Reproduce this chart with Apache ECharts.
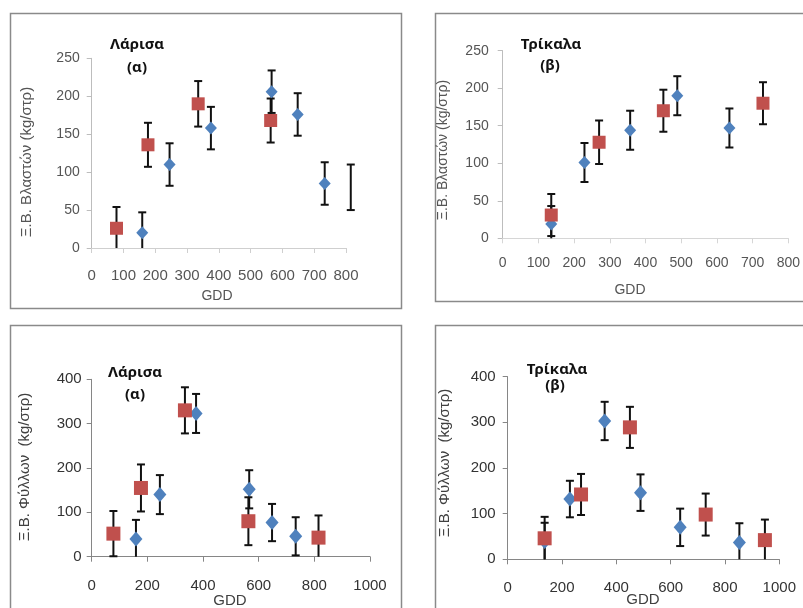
<!DOCTYPE html>
<html>
<head>
<meta charset="utf-8">
<script src="https://cdn.jsdelivr.net/npm/echarts@6/dist/echarts.min.js"></script>
<style>html,body{margin:0;padding:0;background:#fff}#c{width:803px;height:608px}</style>
</head>
<body>
<div id="c"></div>
<script>
// ---- data ----
const larisaRedX  = [78, 177, 335, 563, 815];
const larisaBlueX = [159, 245, 375, 566, 648, 733];
const trikalaBlueX = [136, 229, 357, 489, 635, 853];
const trikalaRedX  = [136, 270, 450, 729, 947];

// (a) shoots, Larisa
const larShootRed = [26, 136, 190, 168, 80];
const larShootRedErr = [28, 29, 30, 29, 30];
const larShootBlue = [20, 110, 158, 206, 176, 85];
const larShootBlueErr = [27, 28, 28, 28, 28, 28];
// (b) shoots, Trikala (visible points only)
const trkShootRed = [31, 128, 170, 180];
const trkShootRedErr = [28, 29, 28, 28];
const trkShootBlue = [19, 101, 144, 190, 147];
const trkShootBlueErr = [24, 26, 26, 26, 26];
// leaves, Larisa
const larLeafRed = [52, 155, 330, 80, 43];
const larLeafRedErr = [51, 53, 52, 54, 50];
const larLeafBlue = [40, 140, 323, 152, 77, 46];
const larLeafBlueErr = [43, 44, 44, 43, 42, 43];
// leaves, Trikala
const trkLeafBlue = [39, 132, 303, 146, 70, 37];
const trkLeafBlueErr = [41, 40, 42, 40, 41, 42];
const trkLeafRed = [46, 142, 289, 98, 42];
const trkLeafRedErr = [47, 45, 45, 46, 45];

const yNameShoot = 'Ξ.Β. Βλαστών (kg/στρ)';
const yNameLeaf = 'Ξ.Β. Φύλλων  (kg/στρ)';
const xName = 'GDD';

const BLUE = '#4F81BD', RED = '#C0504D';

function pts(xs, ys, es) { return ys.map((v, i) => [xs[i], v, es[i]]); }

function errRender(params, api) {
  const x = api.value(0), y = api.value(1), e = api.value(2);
  const lo = Math.max(0, y - e);
  const p1 = api.coord([x, y + e]);
  const p2 = api.coord([x, lo]);
  const hw = 4;
  const st = { stroke: '#111', lineWidth: 2 };
  const ch = [
    { type: 'line', shape: { x1: p1[0], y1: p1[1], x2: p2[0], y2: p2[1] }, style: st },
    { type: 'line', shape: { x1: p1[0] - hw, y1: p1[1], x2: p1[0] + hw, y2: p1[1] }, style: st }
  ];
  if (y - e >= 0) ch.push({ type: 'line', shape: { x1: p2[0] - hw, y1: p2[1], x2: p2[0] + hw, y2: p2[1] }, style: st });
  return { type: 'group', children: ch };
}

const grids = [
  { left: 91.7, top: 58.3, width: 254.3, height: 189.7 },
  { left: 502.7, top: 50.7, width: 289, height: 187.6 },
  { left: 91.7, top: 379.3, width: 278.3, height: 177.4 },
  { left: 507.7, top: 376.7, width: 271.6, height: 182.6 }
];

const plain = v => String(v);

function xAx(g, max, interval, fs, color, lineColor, margin) {
  return { type: 'value', gridIndex: g, min: 0, max: max, interval: interval,
    splitLine: { show: false },
    axisLine: { show: true, onZero: false, lineStyle: { color: lineColor, width: 1 } },
    axisTick: { show: true, length: 5, lineStyle: { color: lineColor } },
    axisLabel: { interval: 0, fontSize: fs, color: color, margin: margin, fontFamily: 'Liberation Sans', formatter: plain } };
}
function yAx(g, max, interval, fs, color, lineColor, margin) {
  return { type: 'value', gridIndex: g, min: 0, max: max, interval: interval,
    splitLine: { show: false },
    axisLine: { show: true, lineStyle: { color: lineColor, width: 1 } },
    axisTick: { show: true, length: 5, lineStyle: { color: lineColor } },
    axisLabel: { fontSize: fs, color: color, margin: margin, fontFamily: 'Liberation Sans', formatter: plain } };
}

function errSeries(g, data) {
  return { type: 'custom', xAxisIndex: g, yAxisIndex: g, clip: false, z: 2,
    renderItem: errRender, encode: { x: 0, y: 1 }, data: data, silent: true };
}
function markSeries(g, data, kind, size) {
  return { type: 'scatter', xAxisIndex: g, yAxisIndex: g, clip: true, z: 3,
    symbol: kind === 'blue' ? 'diamond' : 'rect', symbolSize: size,
    itemStyle: { color: kind === 'blue' ? BLUE : RED, opacity: 1 },
    data: data.map(d => [d[0], d[1]]), silent: true };
}

const dTLr = pts(larisaRedX, larShootRed, larShootRedErr);
const dTLb = pts(larisaBlueX, larShootBlue, larShootBlueErr);
const dTRr = pts(trikalaRedX, trkShootRed, trkShootRedErr);
const dTRb = pts(trikalaBlueX, trkShootBlue, trkShootBlueErr);
const dBLr = pts(larisaRedX, larLeafRed, larLeafRedErr);
const dBLb = pts(larisaBlueX, larLeafBlue, larLeafBlueErr);
const dBRr = pts(trikalaRedX, trkLeafRed, trkLeafRedErr);
const dBRb = pts(trikalaBlueX, trkLeafBlue, trkLeafBlueErr);

function txt(text, x, y, font, color, rot) {
  const o = { type: 'text', x: x, y: y, z: 10, silent: true,
    style: { text: text, font: font, fill: color, textAlign: 'center', textVerticalAlign: 'middle' } };
  if (rot) o.rotation = rot;
  return o;
}
function frame(x, y, w, h) {
  return { type: 'rect', z: 0, silent: true, shape: { x: x, y: y, width: w, height: h },
    style: { fill: 'none', stroke: '#8a8a8a', lineWidth: 1.5 } };
}

const titleFont = 'bold 15px "Noto Sans", "Liberation Sans", sans-serif';
const chart = echarts.init(document.getElementById('c'));
chart.setOption({
  animation: false,
  backgroundColor: '#fff',
  grid: grids,
  xAxis: [
    xAx(0, 800, 100, 15, '#555', '#cfcfcf', 20),
    xAx(1, 800, 100, 14, '#555', '#d6d6d6', 18),
    xAx(2, 1000, 200, 15, '#333', '#868686', 22),
    xAx(3, 1000, 200, 15, '#333', '#868686', 21)
  ],
  yAxis: [
    yAx(0, 250, 50, 14, '#555', '#bdbdbd', 12),
    yAx(1, 250, 50, 14, '#555', '#bdbdbd', 14),
    yAx(2, 400, 100, 15, '#333', '#868686', 10),
    yAx(3, 400, 100, 15, '#333', '#868686', 12)
  ],
  graphic: [
    frame(10.5, 13.5, 391, 295),
    frame(435.5, 13.5, 400, 288),
    frame(10.5, 325.5, 391, 300),
    frame(435.5, 325.5, 400, 300),
    txt('Λάρισα', 137, 45, titleFont, '#111'),
    txt('(α)', 137, 68, titleFont, '#111'),
    txt('Τρίκαλα', 551, 45, titleFont, '#111'),
    txt('(β)', 550, 66, titleFont, '#111'),
    txt('Λάρισα', 135, 373, titleFont, '#111'),
    txt('(α)', 135, 395, titleFont, '#111'),
    txt('Τρίκαλα', 557, 370, titleFont, '#111'),
    txt('(β)', 555, 386, titleFont, '#111'),
    txt(yNameShoot, 27, 162, '15px "Liberation Sans", sans-serif', '#555', Math.PI / 2),
    txt(yNameShoot, 443, 150, '14px "Liberation Sans", sans-serif', '#555', Math.PI / 2),
    txt(yNameLeaf, 25, 467, '15px "Liberation Sans", sans-serif', '#404040', Math.PI / 2),
    txt(yNameLeaf, 445, 463, '15px "Liberation Sans", sans-serif', '#404040', Math.PI / 2),
    txt(xName, 217, 296, '14px "Liberation Sans", sans-serif', '#555'),
    txt(xName, 630, 290, '14px "Liberation Sans", sans-serif', '#555'),
    txt(xName, 230, 601, '15px "Liberation Sans", sans-serif', '#404040'),
    txt(xName, 643, 600, '15px "Liberation Sans", sans-serif', '#404040')
  ],
  series: [
    errSeries(0, dTLb), errSeries(0, dTLr),
    markSeries(0, dTLb, 'blue', [12, 13]), markSeries(0, dTLr, 'red', 13),
    errSeries(1, dTRb), errSeries(1, dTRr),
    markSeries(1, dTRb, 'blue', [12, 13]), markSeries(1, dTRr, 'red', 13),
    errSeries(2, dBLb), errSeries(2, dBLr),
    markSeries(2, dBLb, 'blue', [13, 15]), markSeries(2, dBLr, 'red', 14),
    errSeries(3, dBRb), errSeries(3, dBRr),
    markSeries(3, dBRb, 'blue', [13, 15]), markSeries(3, dBRr, 'red', 14)
  ]
});
</script>
</body>
</html>
